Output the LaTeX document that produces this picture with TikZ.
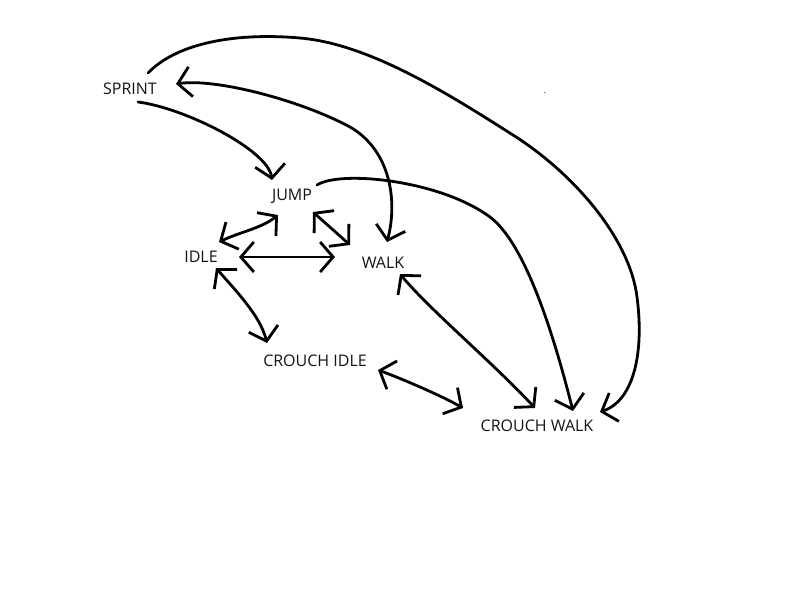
\documentclass[tikz,border=0pt]{standalone}
\usepackage{fontspec}
\setmainfont{Open Sans}
\usetikzlibrary{arrows.meta}
\begin{document}
\begin{tikzpicture}[x=1pt,y=-1pt,
  state/.style={inner sep=0pt, text height=11.4pt, text depth=0pt,
                font=\fontsize{16}{19}\selectfont, text=black!92},
  stroke/.style={line width=2.8pt, line cap=round, line join=round},
  >={Straight Barb[length=13pt,width=30pt]}]
\useasboundingbox (0,0) rectangle (800,600);
\fill[white] (0,0) rectangle (800,600);

\node[state] (sprint) at (130,89)  {SPRINT};
\node[state] (jump)   at (292,195) {JUMP};
\node[state] (idle)   at (201,257) {IDLE};
\node[state] (walk)   at (383,263) {WALK};
\node[state] (cidle)  at (315,361) {CROUCH IDLE};
\node[state] (cwalk)  at (537,426) {CROUCH WALK};

% SPRINT -> CROUCH WALK (big outer arc)
\draw[stroke,->] ([shift={(18,-16)}]sprint.center)
  .. controls (175,45) and (230,32) .. (300,38)
  .. controls (370,44) and (450,95) .. (513,135)
  .. controls (576,175) and (630,240) .. (637,297)
  .. controls (644,350) and (635,400) .. ([shift={(63,-14)}]cwalk.center);

% SPRINT <-> WALK
\draw[stroke,<->] ([shift={(46,-5)}]sprint.center)
  .. controls (215,78) and (300,100) .. (350,127)
  .. controls (390,150) and (398,200) .. ([shift={(4,-21)}]walk.center);

% SPRINT -> JUMP
\draw[stroke,->] ([shift={(8,13)}]sprint.center)
  .. controls (185,108) and (268,150) .. ([shift={(-20,-15)}]jump.center);

% JUMP -> CROUCH WALK
\draw[stroke,->] ([shift={(25,-10)}]jump.center)
  .. controls (340,170) and (440,180) .. (490,217)
  .. controls (530,247) and (560,360) .. ([shift={(36,-15)}]cwalk.center);

% WALK <-> CROUCH WALK
\draw[stroke,<->] ([shift={(17,11)}]walk.center)
  .. controls (430,310) and (490,360) .. ([shift={(-2,-18)}]cwalk.center);

% IDLE <-> JUMP
\draw[stroke,<->] ([shift={(18,-15)}]idle.center)
  .. controls (240,232) and (262,228) .. ([shift={(-14,20)}]jump.center);

% JUMP <-> WALK
\draw[stroke,<->] ([shift={(21,17)}]jump.center) -- ([shift={(-33,-18)}]walk.center);

% IDLE <-> WALK
\draw[stroke,<->] ([shift={(38,0)}]idle.center) -- ([shift={(-48,-6)}]walk.center);

% IDLE <-> CROUCH IDLE
\draw[stroke,<->] ([shift={(15,11)}]idle.center)
  .. controls (235,290) and (260,315) .. ([shift={(-48,-18)}]cidle.center);

% CROUCH IDLE <-> CROUCH WALK
\draw[stroke,<->] ([shift={(63,9)}]cidle.center)
  .. controls (400,378) and (440,395) .. ([shift={(-74,-18)}]cwalk.center);

% stray speck
\fill[black!45] (543.5,91.5) rectangle (545.5,92.8);
\end{tikzpicture}
\end{document}
